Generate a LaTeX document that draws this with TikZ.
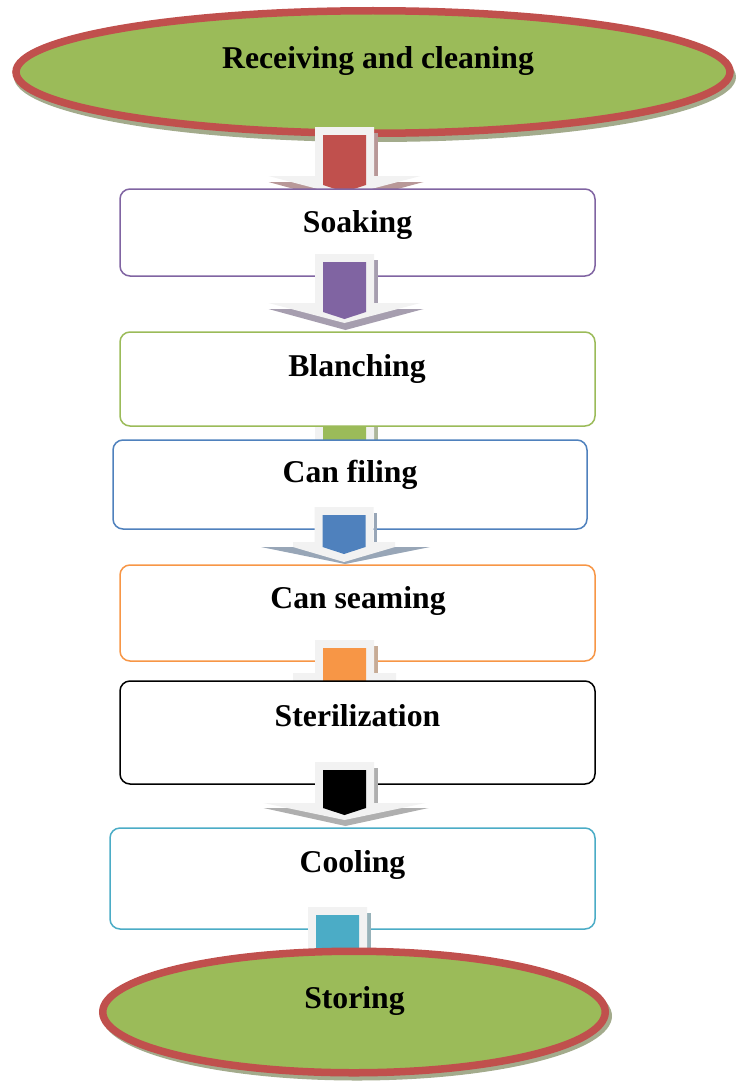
\documentclass[tikz,border=0pt]{standalone}
\usepackage{fontspec}
\setmainfont{Liberation Serif}[Ligatures=NoCommon]
\usetikzlibrary{shapes.geometric}
\definecolor{cred}{HTML}{C0504D}
\definecolor{cgreen}{HTML}{9BBB59}
\definecolor{cpurple}{HTML}{8064A2}
\definecolor{cblue}{HTML}{4F81BD}
\definecolor{corange}{HTML}{F79646}
\definecolor{ccyan}{HTML}{4BACC6}
\definecolor{arrowgray}{HTML}{F2F2F2}
\definecolor{ellshadow}{HTML}{A3AB8C}
% #1 colour, #2 cx, #3 top, #4 head top, #5 head half width, #6 head step,
% #7 head tip, #8 shadow head top, #9 shadow head half width; \stip, \ibot, \shmix set before
\newcommand\blkarrow[9]{%
  \fill[#1!40!gray!\shmix!white] (#2+29.5,#3+6) rectangle (#2+33,#4+#6);
  \fill[#1!40!gray!\shmix!white] (#2-#9,#8) -- (#2+#9+3,#8) -- (#2+1,\stip) -- cycle;
  \fill[arrowgray] (#2-29.5,#3) -- (#2+29.5,#3) -- (#2+29.5,#4) -- (#2+#5,#4)
     -- (#2+#5,#4+#6) -- (#2,#7) -- (#2-#5,#4+#6) -- (#2-#5,#4) -- (#2-29.5,#4) -- cycle;
  \fill[#1] (#2-21.5,#3+8) -- (#2+21.5,#3+8) -- (#2+21.5,\ibot) -- (#2,\ibot+7)
     -- (#2-21.5,\ibot) -- cycle;
}
\def\shmix{70}
\begin{document}
\begin{tikzpicture}[x=1pt,y=-1pt,
  stepbox/.style={draw=#1, fill=white, line width=1.5pt, rounded corners=10pt, inner sep=0pt},
  oval/.style={ellipse, draw=cred, fill=cgreen, line width=7.5pt, inner sep=0pt},
  lbl/.style={anchor=base, font=\bfseries\fontsize{31.7}{38}\selectfont, inner sep=0pt}]
\useasboundingbox (0,0) rectangle (736,1081);

% top ellipse
\fill[ellshadow] (375,77) ellipse [x radius=361, y radius=65];
\node[oval, minimum width=714pt, minimum height=122.5pt] (recv) at (373,72) {};
\node[lbl] (recvT) at (378,69) {Receiving and cleaning};

% red arrow
\def\stip{203}\def\ibot{185}
\blkarrow{cred}{344.5}{127}{176}{76}{0}{196}{182}{76}

% Soaking
\node[stepbox=cpurple, minimum width=475pt, minimum height=87pt] (soak) at (357.5,232.5) {};
\node[lbl] (soakT) at (357.5,232) {Soaking};

% purple arrow
\def\stip{330}\def\ibot{312}
\blkarrow{cpurple}{344.5}{254}{303}{76}{0}{323}{309}{76}

% green arrow (under Blanching box)
\def\stip{470}\def\ibot{455}
\blkarrow{cgreen}{344.5}{415}{450}{76}{0}{465}{456}{76}

% Blanching
\node[stepbox=cgreen, minimum width=475pt, minimum height=94pt] (blanch) at (357.5,379) {};
\node[lbl] (blanchT) at (357,376) {Blanching};

% Can filing
\node[stepbox=cblue, minimum width=474pt, minimum height=89pt] (fill) at (350,484.5) {};
\node[lbl] (fillT) at (350,482) {Can filing};

% blue arrow
\def\stip{564}\def\ibot{547}
\blkarrow{cblue}{344}{507}{542}{51}{5}{562}{547}{83}

% Can seaming
\node[stepbox=corange, minimum width=475pt, minimum height=96pt] (seam) at (357.5,613) {};
\node[lbl] (seamT) at (358,608) {Can seaming};

% orange arrow
\def\stip{697}\def\ibot{683}
\blkarrow{corange}{344.5}{640}{673}{51.5}{8}{695}{684}{83}

% Sterilization
\node[stepbox=black, minimum width=475pt, minimum height=103pt] (steril) at (357.5,732.5) {};
\node[lbl] (sterilT) at (357.5,726) {Sterilization};

% black arrow
\def\stip{826}\def\ibot{808}\def\shmix{45}
\blkarrow{black}{344.5}{762}{803}{81}{0}{820}{808}{81}
\def\shmix{70}

% Cooling
\node[stepbox=ccyan, minimum width=485pt, minimum height=101pt] (cool) at (352.5,878.5) {};
\node[lbl] (coolT) at (352.5,872) {Cooling};

% cyan arrow
\def\stip{990}\def\ibot{975}
\blkarrow{ccyan}{337.5}{907}{960}{60}{0}{980}{966}{60}

% Storing ellipse
\fill[ellshadow] (357,1016) ellipse [x radius=255, y radius=64.5];
\node[oval, minimum width=502.5pt, minimum height=121.5pt] (store) at (354,1012) {};
\node[lbl] (storeT) at (354.5,1008) {Storing};
\end{tikzpicture}
\end{document}
